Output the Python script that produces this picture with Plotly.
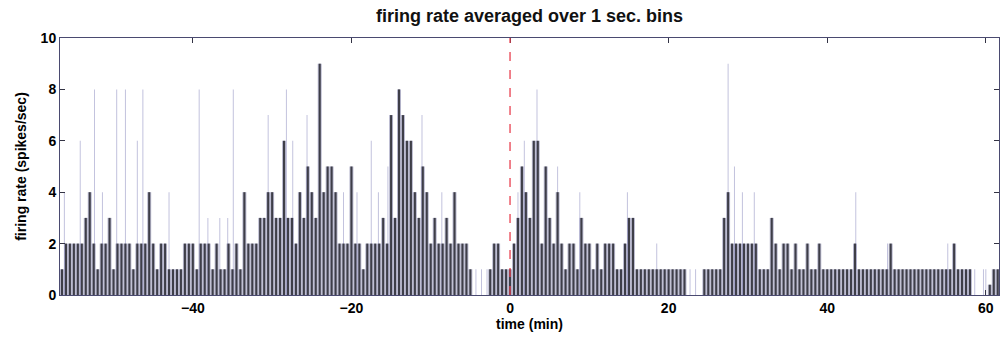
import numpy as np
import plotly.graph_objects as go

# ---- data: firing rate (spikes/sec), one value per half-minute ----
BIN_STEP_MIN = 0.5
seg_starts = [-57.0, -47.0, -37.0, -27.0, -17.0, -7.0, 3.0, 13.0, 23.0, 33.0, 43.0, 53.0]
rate_seg_a = [1, 1, 2, 2, 2, 2, 2, 3, 4, 2, 1, 2, 2, 3, 1, 2, 2, 2, 2, 1]
rate_seg_b = [2, 2, 2, 4, 2, 1, 2, 2, 1, 1, 1, 1, 2, 2, 2, 1, 2, 2, 2, 1]
rate_seg_c = [2, 1, 1, 2, 1, 2, 1, 4, 2, 2, 2, 3, 3, 4, 4, 3, 3, 6, 3, 3]
rate_seg_d = [2, 4, 3, 5, 4, 3, 9, 4, 5, 5, 4, 2, 2, 2, 5, 2, 2, 1, 2, 2]
rate_seg_e = [2, 2, 3, 2, 7, 3, 8, 7, 6, 6, 4, 3, 5, 4, 2, 3, 2, 2, 3, 2]
rate_seg_f = [4, 2, 2, 2, 1, 0, 0, 0, 0, 1, 2, 2, 1, 1, 1, 2, 3, 5, 4, 3]
rate_seg_g = [6, 6, 2, 5, 3, 2, 4, 2, 1, 2, 2, 1, 3, 2, 2, 1, 2, 1, 2, 2]
rate_seg_h = [2, 1, 1, 2, 3, 3, 1, 1, 1, 1, 1, 1, 1, 1, 1, 1, 1, 1, 1, 0]
rate_seg_i = [0, 0, 0, 1, 1, 1, 1, 1, 3, 4, 2, 2, 2, 2, 2, 2, 2, 1, 1, 1]
rate_seg_j = [3, 2, 1, 2, 2, 1, 2, 1, 1, 2, 1, 1, 2, 1, 1, 1, 1, 1, 1, 1]
rate_seg_k = [1, 2, 1, 1, 1, 1, 1, 1, 1, 1, 2, 1, 1, 1, 1, 1, 1, 1, 1, 1]
rate_seg_l = [1, 1, 1, 1, 1, 1, 2, 1, 1, 1, 1, 0, 0, 0, 0, 0.4, 1, 1]

# isolated single-second bins (drawn as faint thin lines)
spike_time_min = [-56.2, -54.2, -52.4, -51.4, -49.6, -48.5, -47.0, -46.3, -43.0, -39.2,
                  -38.1, -36.6, -35.6, -34.9, -30.5, -28.2, -27.4, -25.6, -21.0, -19.3,
                  -17.5, -16.6, -15.4, -11.1, -8.6, -4.3, -3.6, -2.9, 1.0, 1.8,
                  3.4, 6.0, 8.8, 14.8, 18.5, 22.7, 23.4, 27.5, 28.3, 29.3,
                  30.8, 43.6, 47.6, 55.2, 58.6, 59.7, 60.0]
spike_rate = [4, 6, 8, 4, 8, 8, 6, 8, 4, 8,
              3, 3, 3, 8, 7, 8, 6, 7, 4, 4,
              6, 4, 5, 7, 4, 1, 1, 1, 4, 6,
              8, 5, 4, 4, 2, 1, 1, 9, 5, 4,
              4, 4, 2, 2, 1, 1, 1]

event_time_min = 0
x_ticks = [-40, -20, 0, 20, 40, 60]
y_ticks = [0, 2, 4, 6, 8, 10]

segments = [rate_seg_a, rate_seg_b, rate_seg_c, rate_seg_d, rate_seg_e, rate_seg_f,
            rate_seg_g, rate_seg_h, rate_seg_i, rate_seg_j, rate_seg_k, rate_seg_l]
bin_time = np.concatenate([s + BIN_STEP_MIN * np.arange(len(v)) for s, v in zip(seg_starts, segments)])
bin_rate = np.concatenate([np.asarray(v, dtype=float) for v in segments])

fig = go.Figure()
fig.add_trace(go.Bar(x=bin_time, y=bin_rate, width=0.5,
                     marker=dict(color="rgba(125,125,165,0.55)", line=dict(width=0)),
                     hoverinfo="skip"))
fig.add_trace(go.Bar(x=spike_time_min, y=spike_rate, width=0.12,
                     marker=dict(color="rgba(130,130,185,0.5)", line=dict(width=0))))
fig.add_trace(go.Bar(x=bin_time, y=bin_rate, width=0.26,
                     marker=dict(color="#3e3e48", line=dict(width=0))))

fig.add_shape(type="line", x0=event_time_min, x1=event_time_min, y0=0, y1=1,
              xref="x", yref="y domain",
              line=dict(color="#e8404f", width=1.3, dash="dash"))

axis_font = dict(family="Liberation Sans, Arial, sans-serif", size=14, color="black", weight="bold")
fig.update_layout(
    width=1000, height=341,
    margin=dict(l=60, r=1, t=38, b=46),
    paper_bgcolor="white", plot_bgcolor="white",
    barmode="overlay", showlegend=False,
    title=dict(text="firing rate averaged over 1 sec. bins",
               font=dict(family="Liberation Sans, Arial, sans-serif", size=18, color="#111111",
                         weight="bold"),
               x=0.5, xref="paper", xanchor="center", y=0.955, yanchor="middle"),
    xaxis=dict(range=[-56.75, 61.66], tickvals=x_ticks, ticks="inside", ticklen=5,
               tickcolor="#333344", showline=True, linecolor="#4a4a70", linewidth=1,
               mirror="ticks", showgrid=False, zeroline=False, tickfont=axis_font,
               title=dict(text="time (min)", font=axis_font, standoff=4)),
    yaxis=dict(range=[0, 10], tickvals=y_ticks, ticks="inside", ticklen=5,
               tickcolor="#333344", showline=True, linecolor="#4a4a70", linewidth=1,
               mirror="ticks", showgrid=False, zeroline=False, tickfont=axis_font,
               title=dict(text="firing rate (spikes/sec)",
                          font=dict(family="Liberation Sans, Arial, sans-serif", size=14,
                                    color="black", weight="bold"), standoff=10)),
)

fig.write_html("out.html")
